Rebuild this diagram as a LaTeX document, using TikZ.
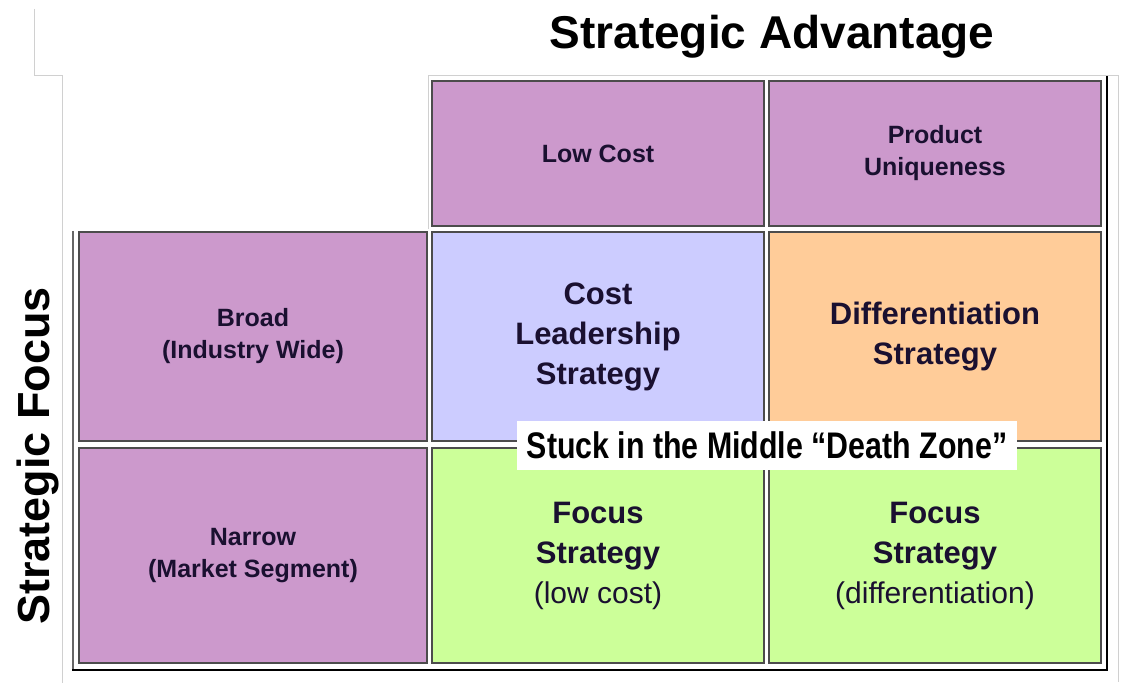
\documentclass[tikz,border=0pt]{standalone}
\usepackage{fontspec}
\setmainfont{Liberation Sans}
\newfontfamily\narrowsans[FakeStretch=0.82]{Liberation Sans}
\usetikzlibrary{positioning}

\definecolor{headfill}{HTML}{CC99CC}
\definecolor{costfill}{HTML}{CCCCFF}
\definecolor{difffill}{HTML}{FFCC99}
\definecolor{focusfill}{HTML}{CCFF99}
\definecolor{celltext}{HTML}{1A1030}
\definecolor{pagegray}{HTML}{D0D0D0}

\begin{document}
\begin{tikzpicture}[x=1pt, y=-1pt, node distance=6pt and 5pt,
  cell/.style={draw=black!70, line width=1.5pt, outer sep=0pt, inner sep=0pt, align=center, text=celltext},
  headcell/.style={cell, fill=headfill, font=\bfseries\fontsize{25}{32}\selectfont},
  stratcell/.style={cell, font=\bfseries\fontsize{31}{40}\selectfont}]
\useasboundingbox (0,0) rectangle (1125,692);

% screenshot edges and table frame
\draw[pagegray, line width=1pt] (34,9) -- (34,76) -- (62,76) -- (62,683);
\draw[pagegray, line width=1pt] (428,229) -- (428,76) -- (1118,76) -- (1118,682);
\draw[black!60, line width=2.5pt] (73,231) -- (73,670);
\draw[black, line width=2.5pt] (72,670) -- (1107,670) -- (1107,76);

\node[anchor=base, font=\bfseries\fontsize{46}{50}\selectfont] (advantage) at (772,49) {Strategic Advantage};
\node[anchor=base, rotate=90, font=\bfseries\fontsize{45}{50}\selectfont] (focus) at (49,456) {Strategic Focus};

\node[headcell, minimum width=332pt, minimum height=145pt] (lowcost) at (598,153.5) {Low Cost};
\node[headcell, minimum width=332pt, minimum height=145pt, right=of lowcost] (unique) {Product\\Uniqueness};
\node[stratcell, fill=costfill, minimum width=332pt, minimum height=209pt, below=of lowcost] (leader) {Cost\\Leadership\\Strategy};
\node[stratcell, fill=difffill, minimum width=332pt, minimum height=209pt, right=of leader] (differ) {Differentiation\\Strategy};
\node[headcell, minimum width=348pt, minimum height=209pt, left=of leader] (broad) {Broad\\(Industry Wide)};
\node[stratcell, fill=focusfill, minimum width=332pt, minimum height=215pt, below=7pt of leader] (focuslow) {Focus\\Strategy\\{\mdseries\fontsize{30}{40}\selectfont (low cost)}};
\node[stratcell, fill=focusfill, minimum width=332pt, minimum height=215pt, right=of focuslow] (focusdiff) {Focus\\Strategy\\{\mdseries\fontsize{30}{40}\selectfont (differentiation)}};
\node[headcell, minimum width=348pt, minimum height=215pt, left=of focuslow] (narrow) {Narrow\\(Market Segment)};

\node[fill=white, minimum width=500pt, minimum height=49pt, inner sep=0pt, font=\narrowsans\bfseries\fontsize{37}{40}\selectfont] (stuck) at (767,445.5) {Stuck in the Middle “Death Zone”};
\end{tikzpicture}
\end{document}
